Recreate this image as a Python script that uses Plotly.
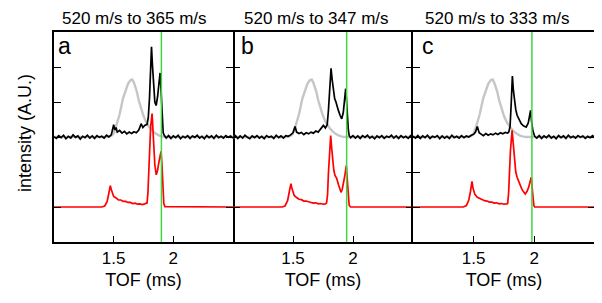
import plotly.graph_objects as go

# ---------------- data ----------------
panel_titles = ["520 m/s to 365 m/s", "520 m/s to 347 m/s", "520 m/s to 333 m/s"]
panel_letters = ["a", "b", "c"]
green_tof = [1.90, 1.947, 1.98]
x_tickvals = [1.5, 2.0]
x_ticktext = ["1.5", "2"]
y_tickvals = [1, 2, 3, 4, 5]

gray_tof = [1.00, 1.45, 1.48, 1.50, 1.52, 1.55, 1.578, 1.60, 1.62, 1.64, 1.656, 1.67,
            1.694, 1.71, 1.73, 1.75, 1.772, 1.80, 1.828, 1.855, 1.883, 1.91, 1.94, 2.50]
gray_int = [3.00, 3.00, 3.03, 3.10, 3.30, 3.65, 4.10, 4.35, 4.52, 4.62, 4.64, 4.55,
            4.30, 4.05, 3.80, 3.60, 3.43, 3.28, 3.17, 3.09, 3.04, 3.01, 3.00, 3.00]

base_left_tof = [1.00, 1.02, 1.04, 1.06, 1.08, 1.10, 1.12, 1.14, 1.16, 1.18, 1.20, 1.22,
                 1.24, 1.26, 1.28, 1.30, 1.32, 1.34, 1.36, 1.38, 1.40, 1.42, 1.44, 1.46, 1.48]
base_right_tof = [2.02, 2.04, 2.06, 2.08, 2.10, 2.12, 2.14, 2.16, 2.18, 2.20, 2.22, 2.24,
                  2.26, 2.28, 2.30, 2.32, 2.34, 2.36, 2.38, 2.40, 2.42, 2.44, 2.46, 2.48, 2.50]

# panel a
black_a_tof = base_left_tof + [1.49, 1.50, 1.51, 1.52, 1.53, 1.55, 1.57, 1.59, 1.61, 1.63, 1.65, 1.67,
                               1.69, 1.71, 1.72, 1.73, 1.745, 1.76, 1.78, 1.79, 1.80, 1.81, 1.817,
                               1.825, 1.835, 1.845, 1.856, 1.868, 1.88, 1.889, 1.897, 1.905, 1.915,
                               1.925, 1.94, 1.96, 1.98, 2.00] + base_right_tof
black_a_int = [3.01, 2.96, 3.04, 2.98, 3.05, 2.95, 3.02, 2.97, 3.06, 2.99, 3.03, 2.94,
               3.02, 2.98, 3.05, 2.97, 3.03, 2.96, 3.04, 2.99, 3.02, 2.97, 3.05, 3.00, 3.06,
               3.18, 3.35, 3.20, 3.27, 3.14, 3.19, 3.11, 3.16, 3.09, 3.14, 3.10, 3.15,
               3.12, 3.20, 3.28, 3.38, 3.27, 3.33, 3.36, 3.55, 4.10, 5.05, 5.58,
               5.05, 4.35, 4.00, 3.90, 4.15, 4.55, 4.83, 4.35, 3.60, 3.12,
               3.04, 2.97, 3.04, 2.96, 3.03,
               2.98, 3.05, 2.95, 3.02, 2.98, 3.04, 2.96, 3.03, 2.99, 3.05, 2.97, 3.02,
               2.95, 3.04, 2.98, 3.03, 2.96, 3.05, 2.98, 3.02, 2.97, 3.04, 2.99, 3.03, 2.97]
red_a_tof = [1.00, 1.40, 1.425, 1.445, 1.46, 1.472, 1.48, 1.49, 1.50, 1.52, 1.54, 1.56, 1.58,
             1.60, 1.62, 1.64, 1.66, 1.68, 1.70, 1.72, 1.74, 1.76, 1.78, 1.787, 1.793, 1.80,
             1.81, 1.822, 1.828, 1.835, 1.845, 1.857, 1.868, 1.88, 1.89, 1.897, 1.905, 1.912,
             1.92, 1.93, 2.50]
red_a_int = [1.00, 1.00, 1.03, 1.15, 1.40, 1.61, 1.50, 1.36, 1.30, 1.26, 1.20, 1.20, 1.16,
             1.16, 1.13, 1.13, 1.10, 1.11, 1.08, 1.09, 1.07, 1.09, 1.12, 1.40, 2.00, 2.60,
             3.30, 3.67, 3.30, 2.60, 2.20, 1.92, 2.05, 2.30, 2.55, 2.59, 2.20, 1.60,
             1.10, 1.01, 1.00]

# panel b
black_b_tof = base_left_tof + [1.50, 1.517, 1.53, 1.55, 1.57, 1.59, 1.61, 1.63, 1.65, 1.67, 1.69,
                               1.71, 1.73, 1.753, 1.77, 1.785, 1.795, 1.805, 1.817, 1.826, 1.836,
                               1.847, 1.858, 1.868, 1.878, 1.892, 1.906, 1.919, 1.93, 1.939, 1.946,
                               1.953, 1.961, 1.969, 1.98, 2.00] + base_right_tof
black_b_int = [2.98, 3.04, 2.96, 3.03, 2.97, 3.05, 2.99, 2.95, 3.03, 2.98, 3.04, 2.97,
               3.02, 2.95, 3.04, 2.99, 3.02, 2.96, 3.05, 2.98, 3.03, 2.97, 3.04, 3.02, 3.06,
               3.12, 3.30, 3.14, 3.10, 3.13, 3.07, 3.12, 3.09, 3.14, 3.11, 3.17,
               3.14, 3.22, 3.33, 3.26, 3.35, 3.75, 4.45, 4.96, 4.65, 4.34,
               4.10, 4.00, 3.85, 3.76, 3.62, 3.52, 3.70, 4.05, 4.38, 4.05,
               3.60, 3.20, 3.03, 2.98, 3.04,
               2.97, 3.03, 2.96, 3.04, 2.99, 3.05, 2.97, 3.02, 2.95, 3.03, 2.98, 3.04,
               2.96, 3.02, 2.99, 3.05, 2.97, 3.03, 2.96, 3.04, 2.98, 3.02, 2.96, 3.04, 2.99]
red_b_tof = [1.00, 1.41, 1.433, 1.455, 1.47, 1.483, 1.49, 1.50, 1.51, 1.53, 1.55, 1.57, 1.59,
             1.61, 1.63, 1.65, 1.67, 1.69, 1.71, 1.73, 1.75, 1.77, 1.78, 1.788, 1.795, 1.803,
             1.814, 1.822, 1.83, 1.84, 1.85, 1.864, 1.878, 1.89, 1.90, 1.91, 1.92, 1.932,
             1.944, 1.952, 1.96, 1.968, 1.98, 2.50]
red_b_int = [1.00, 1.00, 1.03, 1.18, 1.45, 1.67, 1.55, 1.40, 1.33, 1.27, 1.22, 1.21, 1.17,
             1.17, 1.14, 1.13, 1.11, 1.12, 1.09, 1.10, 1.08, 1.09, 1.12, 1.35, 1.95, 2.55,
             3.04, 2.70, 2.35, 2.05, 1.90, 1.82, 1.65, 1.50, 1.42, 1.50, 1.65, 1.90,
             2.18, 1.85, 1.30, 1.05, 1.00, 1.00]

# panel c
black_c_tof = base_left_tof + [1.50, 1.515, 1.53, 1.545, 1.56, 1.58, 1.60, 1.62, 1.64, 1.66, 1.68,
                               1.70, 1.72, 1.74, 1.76, 1.78, 1.79, 1.80, 1.81, 1.819, 1.827, 1.836,
                               1.847, 1.858, 1.875, 1.892, 1.91, 1.933, 1.95, 1.962, 1.969, 1.977,
                               1.989, 2.003] + base_right_tof
black_c_int = [3.02, 2.97, 3.04, 2.96, 3.03, 2.98, 3.05, 2.96, 3.02, 2.99, 3.04, 2.95,
               3.03, 2.97, 3.02, 2.96, 3.05, 2.98, 3.02, 2.97, 3.04, 2.98, 3.03, 3.00, 3.05,
               3.08, 3.14, 3.30, 3.12, 3.08, 3.04, 3.10, 3.05, 3.09, 3.06, 3.11,
               3.07, 3.12, 3.09, 3.13, 3.11, 3.15, 3.30, 4.00, 4.74, 4.35, 4.00,
               3.78, 3.62, 3.48, 3.38, 3.32, 3.28, 3.40, 3.60, 3.76, 3.45,
               3.16, 3.02,
               2.97, 3.04, 2.96, 3.03, 2.98, 3.05, 2.97, 3.02, 2.95, 3.04, 2.98, 3.03,
               2.96, 3.05, 2.98, 3.02, 2.97, 3.04, 2.99, 3.03, 2.96, 3.02, 2.98, 3.04, 2.97]
red_c_tof = [1.00, 1.415, 1.44, 1.46, 1.474, 1.486, 1.494, 1.50, 1.51, 1.53, 1.55, 1.57, 1.59,
             1.61, 1.63, 1.65, 1.67, 1.69, 1.71, 1.73, 1.75, 1.77, 1.78, 1.788, 1.795, 1.803,
             1.8167, 1.826, 1.836, 1.847, 1.858, 1.868, 1.878, 1.887, 1.897, 1.91, 1.925,
             1.94, 1.953, 1.965, 1.975, 1.982, 1.989, 1.996, 2.003, 2.50]
red_c_int = [1.00, 1.00, 1.04, 1.20, 1.45, 1.73, 1.55, 1.45, 1.36, 1.28, 1.24, 1.21, 1.18,
             1.17, 1.14, 1.14, 1.11, 1.12, 1.09, 1.10, 1.08, 1.09, 1.10, 1.40, 2.00, 2.60,
             3.19, 2.75, 2.33, 2.00, 1.85, 1.76, 1.70, 1.58, 1.51, 1.44, 1.37,
             1.45, 1.56, 1.72, 1.85, 1.55, 1.25, 1.05, 1.00, 1.00]

black_curves = [(black_a_tof, black_a_int), (black_b_tof, black_b_int), (black_c_tof, black_c_int)]
red_curves = [(red_a_tof, red_a_int), (red_b_tof, red_b_int), (red_c_tof, red_c_int)]

# ---------------- figure ----------------
# The page body has an 8 px margin; pixel positions below are page positions.
OFF = 8
FONT = "Liberation Sans, Arial, sans-serif"
W, H = 602 - OFF, 303 - OFF
left_px, top_px, right_px, bottom_px = 54, 32, 595, 242
ML, MT = left_px - OFF, top_px - OFF
MR, MB = W - (right_px - OFF), H - (bottom_px - OFF)
PW = W - ML - MR
PH = H - MT - MB
edges_px = [54, 233, 413, 595]
domains = [[(edges_px[i] - left_px) / PW, (edges_px[i + 1] - left_px) / PW] for i in range(3)]


def px_x(p):
    return (p - left_px) / PW


def px_y(p):
    return (bottom_px - p) / PH


fig = go.Figure()
for i in range(3):
    xa = "x" if i == 0 else f"x{i+1}"
    ya = "y" if i == 0 else f"y{i+1}"
    fig.add_trace(go.Scatter(x=gray_tof, y=gray_int, mode="lines",
                             line=dict(color="#c6c6c6", width=2.4), xaxis=xa, yaxis=ya,
                             showlegend=False, hoverinfo="skip"))
    bx, by = black_curves[i]
    fig.add_trace(go.Scatter(x=bx, y=by, mode="lines",
                             line=dict(color="black", width=1.7), xaxis=xa, yaxis=ya,
                             showlegend=False, hoverinfo="skip"))
    rx, ry = red_curves[i]
    fig.add_trace(go.Scatter(x=rx, y=ry, mode="lines",
                             line=dict(color="#ff0000", width=1.7), xaxis=xa, yaxis=ya,
                             showlegend=False, hoverinfo="skip"))
    fig.add_trace(go.Scatter(x=[green_tof[i], green_tof[i]], y=[0, 6], mode="lines",
                             line=dict(color="#3fd63f", width=1.5), xaxis=xa, yaxis=ya,
                             showlegend=False, hoverinfo="skip"))

layout = dict(width=W, height=H, margin=dict(l=ML, r=MR, t=MT, b=MB, autoexpand=False),
              paper_bgcolor="white", plot_bgcolor="white",
              font=dict(family=FONT, size=17, color="black"))
for i in range(3):
    sx = "xaxis" if i == 0 else f"xaxis{i+1}"
    sy = "yaxis" if i == 0 else f"yaxis{i+1}"
    layout[sx] = dict(domain=domains[i], range=[1.0, 2.5], anchor="y" if i == 0 else f"y{i+1}",
                      showgrid=False, zeroline=False, showline=True, linecolor="black",
                      linewidth=1.6, mirror=True, ticks="inside", ticklen=6, tickwidth=1.3,
                      tickcolor="black", tickvals=x_tickvals, ticktext=x_ticktext,
                      tickfont=dict(size=17), automargin=False,
                      title=dict(text="TOF (ms)", font=dict(size=18), standoff=6))
    layout[sy] = dict(domain=[0, 1], range=[0, 6], anchor="x" if i == 0 else f"x{i+1}",
                      showgrid=False, zeroline=False, showline=(i == 0) or (i == 2),
                      linecolor="black", linewidth=1.6,
                      mirror="ticks" if i != 1 else False, ticks="inside", ticklen=7,
                      tickwidth=1.3, tickcolor="black", tickvals=y_tickvals,
                      showticklabels=False, automargin=False)
fig.update_layout(**layout)

# panel b's right-side ticks (its border comes from panel c's line)
layout_b_right = dict(overlaying="y2", side="right", range=[0, 6], anchor="x2",
                      showgrid=False, zeroline=False, showline=False, ticks="inside",
                      ticklen=7, tickwidth=1.3, tickcolor="black", tickvals=y_tickvals,
                      showticklabels=False, automargin=False)
fig.update_layout(yaxis4=layout_b_right)
fig.add_trace(go.Scatter(x=[None], y=[None], xaxis="x2", yaxis="y4", showlegend=False,
                         hoverinfo="skip"))

annotations = []
title_left_px = [60, 242, 423]
letter_left_px = [56, 239, 420]
for i in range(3):
    annotations.append(dict(text=panel_titles[i], xref="paper", yref="paper",
                            x=px_x(title_left_px[i]), y=px_y(18),
                            xanchor="left", yanchor="middle", showarrow=False,
                            font=dict(size=17)))
    annotations.append(dict(text=panel_letters[i], xref="paper", yref="paper",
                            x=px_x(letter_left_px[i]), y=px_y(46),
                            xanchor="left", yanchor="middle", showarrow=False,
                            font=dict(size=23)))
annotations.append(dict(text="intensity (A.U.)", xref="paper", yref="paper",
                        x=px_x(25), y=px_y(133), xanchor="center", yanchor="middle",
                        textangle=-90, showarrow=False, font=dict(size=18)))
fig.update_layout(annotations=annotations)

fig.write_html("out.html")
